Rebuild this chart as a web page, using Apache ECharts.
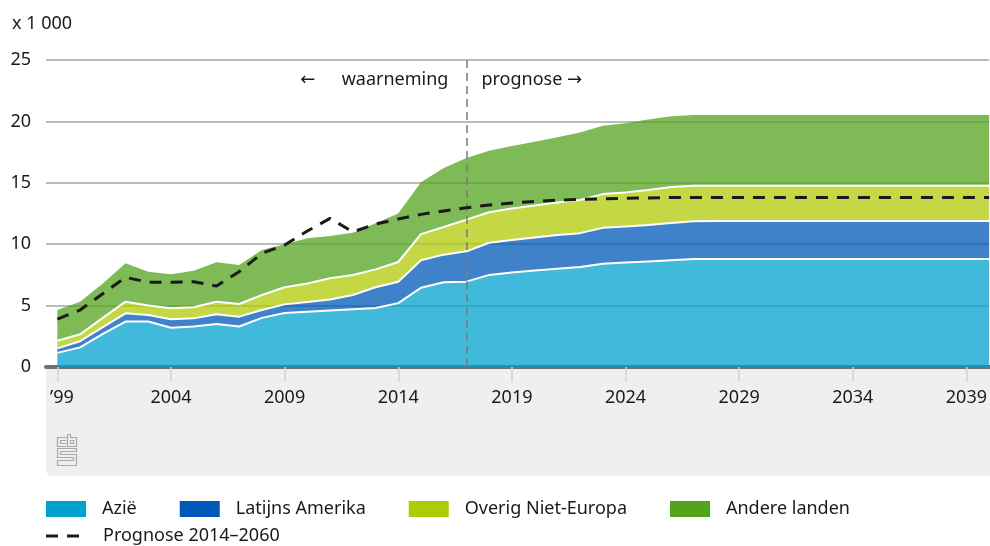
<!DOCTYPE html>
<html>
<head>
<meta charset="utf-8">
<script src="https://cdn.jsdelivr.net/npm/echarts@6/dist/echarts.min.js"></script>
<style>
  html, body { margin: 0; padding: 0; background: #fff; }
  #chart { width: 990px; height: 546px; }
</style>
</head>
<body>
<div id="chart"></div>
<script>
// jaren 1999-2040
const years = [1999, 2000, 2001, 2002, 2003, 2004, 2005, 2006, 2007, 2008,
  2009, 2010, 2011, 2012, 2013, 2014, 2015, 2016, 2017, 2018,
  2019, 2020, 2021, 2022, 2023, 2024, 2025, 2026, 2027, 2028,
  2029, 2030, 2031, 2032, 2033, 2034, 2035, 2036, 2037, 2038,
  2039, 2040];

// x 1 000
const azie = [1.15, 1.6, 2.7, 3.7, 3.7, 3.2, 3.3, 3.5, 3.3, 4.0,
  4.4, 4.5, 4.6, 4.7, 4.8, 5.2, 6.45, 6.9, 6.95, 7.5,
  7.7, 7.85, 8.0, 8.15, 8.4, 8.5, 8.6, 8.7, 8.8, 8.8,
  8.8, 8.8, 8.8, 8.8, 8.8, 8.8, 8.8, 8.8, 8.8, 8.8,
  8.8, 8.8];
const latijnsAmerika = [0.37, 0.5, 0.55, 0.67, 0.53, 0.68, 0.66, 0.79, 0.8, 0.64,
  0.7, 0.8, 0.9, 1.16, 1.7, 1.75, 2.25, 2.25, 2.47, 2.62,
  2.65, 2.7, 2.75, 2.75, 2.93, 2.95, 2.96, 3.02, 3.07, 3.08,
  3.08, 3.08, 3.08, 3.08, 3.08, 3.08, 3.08, 3.08, 3.08, 3.08,
  3.08, 3.08];
const overigNietEuropa = [0.62, 0.56, 0.75, 0.95, 0.77, 0.9, 0.9, 1.03, 1.03, 1.22,
  1.39, 1.5, 1.72, 1.63, 1.45, 1.6, 2.12, 2.25, 2.58, 2.48,
  2.55, 2.6, 2.65, 2.7, 2.75, 2.77, 2.86, 2.93, 2.88, 2.87,
  2.87, 2.87, 2.87, 2.87, 2.87, 2.87, 2.87, 2.87, 2.87, 2.87,
  2.87, 2.87];
const andereLanden = [2.5, 2.66, 2.8, 3.12, 2.76, 2.77, 2.98, 3.2, 3.17, 3.67,
  3.51, 3.68, 3.45, 3.45, 3.75, 3.95, 4.23, 4.8, 5.02, 5.0,
  5.1, 5.2, 5.3, 5.5, 5.57, 5.63, 5.73, 5.77, 5.77, 5.77,
  5.77, 5.77, 5.77, 5.77, 5.77, 5.77, 5.77, 5.77, 5.77, 5.77,
  5.77, 5.77];
const prognose = [3.9, 4.64, 5.97, 7.3, 6.9, 6.9, 6.95, 6.6, 7.76, 9.26,
  9.93, 11.07, 12.1, 11.0, 11.64, 12.05, 12.43, 12.7, 12.97, 13.19,
  13.35, 13.48, 13.58, 13.65, 13.7, 13.74, 13.77, 13.8, 13.8, 13.8,
  13.8, 13.8, 13.8, 13.8, 13.8, 13.8, 13.8, 13.8, 13.8, 13.8,
  13.8, 13.8];

const tickYears = [1999, 2004, 2009, 2014, 2019, 2024, 2029, 2034, 2039];
const grensJaar = 2017; // waarneming / prognose

const FONT = "'Noto Sans', 'DejaVu Sans', sans-serif";
const TXT = '#1a1a1a';

const chart = echarts.init(document.getElementById('chart'), null, { renderer: 'canvas' });

// waarde eerst, jaar tweede: dan stapelt echarts op de y-waarde
const pairs = arr => years.map((y, i) => [arr[i], y]);

function areaSerie(name, data, color, line) {
  return {
    name: name,
    type: 'line',
    stack: 'totaal',
    data: pairs(data),
    encode: { x: 1, y: 0 },
    showSymbol: false,
    symbol: 'none',
    itemStyle: { color: color },
    lineStyle: { color: '#fff', width: line ? 2 : 0 },
    areaStyle: { color: color, opacity: 0.75 },
    emphasis: { disabled: true },
    z: 2
  };
}

// cbs logo
const logoStyle = { stroke: '#a9a9a9', fill: null, lineWidth: 1.2 };
const logo = [
  [[66.5, 437.5], [57.5, 437.5], [57.5, 446.5], [66.5, 446.5]],
  [[66.5, 440.5], [60.5, 440.5], [60.5, 443.5], [66.5, 443.5]],
  [[67.5, 434.5], [67.5, 446.5], [76.5, 446.5], [76.5, 437.5], [70.5, 437.5], [70.5, 434.5], [67.5, 434.5]],
  [[70.5, 440.5], [73.5, 440.5], [73.5, 443.5], [70.5, 443.5], [70.5, 440.5]],
  [[76.5, 448.5], [57.5, 448.5], [57.5, 457.5], [73.5, 457.5], [73.5, 460.5], [57.5, 460.5],
   [57.5, 465.5], [76.5, 465.5], [76.5, 454.5], [60.5, 454.5], [60.5, 451.5], [76.5, 451.5], [76.5, 448.5]]
].map((pts, i) => ({
  id: 'logo' + i, type: 'polyline', shape: { points: pts }, style: logoStyle, z: 5
}));

const option = {
  animation: false,
  backgroundColor: '#fff',
  grid: { left: 46, right: 0, top: 60, height: 307 },
  xAxis: {
    type: 'value',
    min: 1998.5,
    max: 2040,
    splitLine: { show: false },
    axisLine: { show: true, onZero: false, lineStyle: { color: '#707070', width: 4 } },
    axisTick: { show: true, customValues: tickYears, length: 15, lineStyle: { color: '#d2d2d2', width: 1.5 } },
    axisLabel: {
      customValues: tickYears,
      margin: 22,
      fontFamily: FONT, fontSize: 18, color: TXT,
      formatter: v => (v === 1999 ? '{eerste|\u201999}' : String(v)),
      rich: {
        eerste: { fontFamily: FONT, fontSize: 18, color: TXT, padding: [0, 0, 0, 9] }
      }
    }
  },
  yAxis: {
    type: 'value',
    min: 0, max: 25, interval: 5,
    axisLine: { show: false },
    axisTick: { show: false },
    splitLine: { lineStyle: { color: '#a5a5a5', width: 1.5 } },
    axisLabel: { margin: 15, fontFamily: FONT, fontSize: 18, color: TXT }
  },
  legend: [
    {
      data: [
        { name: 'Azië', icon: 'rect' },
        { name: 'Latijns Amerika', icon: 'rect' },
        { name: 'Overig Niet-Europa', icon: 'rect' },
        { name: 'Andere landen', icon: 'rect' }
      ],
      left: 46, top: 500, padding: 0,
      itemWidth: 40, itemHeight: 16, itemGap: 43,
      selectedMode: false,
      textStyle: { fontFamily: FONT, fontSize: 18, color: TXT, padding: [0, 0, 0, 11] }
    },
    {
      data: [{ name: 'Prognose 2014–2060', icon: 'path://M0,0H12V3H0Z M21,0H33V3H21Z' }],
      left: 46, top: 527, padding: 0,
      itemWidth: 33, itemHeight: 16,
      selectedMode: false,
      itemStyle: { color: '#1a1a1a' },
      textStyle: { fontFamily: FONT, fontSize: 18, color: TXT, padding: [0, 0, 8, 19] }
    }
  ],
  graphic: [
    {
      id: 'band', type: 'rect', z: -10,
      shape: { x: 46, y: 367, width: 944, height: 109, r: [0, 0, 0, 6] },
      style: { fill: '#efefef' }
    },
    {
      id: 'eenheid', type: 'text', left: 12, top: 15,
      style: { text: 'x 1 000', font: '18px ' + FONT, fill: TXT }
    }
  ].concat(logo),
  series: [
    areaSerie('Azië', azie, '#00a1cd', true),
    areaSerie('Latijns Amerika', latijnsAmerika, '#0058b8', true),
    areaSerie('Overig Niet-Europa', overigNietEuropa, '#afcb05', true),
    Object.assign(areaSerie('Andere landen', andereLanden, '#53a31d', false), {
      markLine: {
        silent: true,
        symbol: 'none',
        label: { show: false },
        lineStyle: { color: '#7a7a7a', width: 1.5, type: [8, 5] },
        data: [{ xAxis: grensJaar }]
      }
    }),
    {
      name: 'Prognose 2014–2060',
      type: 'line',
      data: pairs(prognose),
      encode: { x: 1, y: 0 },
      showSymbol: false,
      symbol: 'none',
      itemStyle: { color: '#1a1a1a' },
      lineStyle: { color: '#1a1a1a', width: 3, type: [12, 9] },
      emphasis: { disabled: true },
      z: 5
    }
  ]
};

chart.setOption(option);

// annotaties bij de grens waarneming / prognose
const gx = chart.convertToPixel({ xAxisIndex: 0 }, grensJaar);
const gy = chart.convertToPixel({ yAxisIndex: 0 }, 23.4);
chart.setOption({
  graphic: [
    {
      id: 'waarneming', type: 'text', x: gx - 18, y: gy,
      style: { text: 'waarneming', font: '18px ' + FONT, fill: TXT, align: 'right', verticalAlign: 'middle' }
    },
    {
      id: 'pijlLinks', type: 'text', x: gx - 151, y: gy,
      style: { text: '←', font: '18px ' + FONT, fill: TXT, align: 'right', verticalAlign: 'middle' }
    },
    {
      id: 'prognose', type: 'text', x: gx + 15, y: gy,
      style: { text: 'prognose →', font: '18px ' + FONT, fill: TXT, align: 'left', verticalAlign: 'middle' }
    }
  ]
});
</script>
</body>
</html>
